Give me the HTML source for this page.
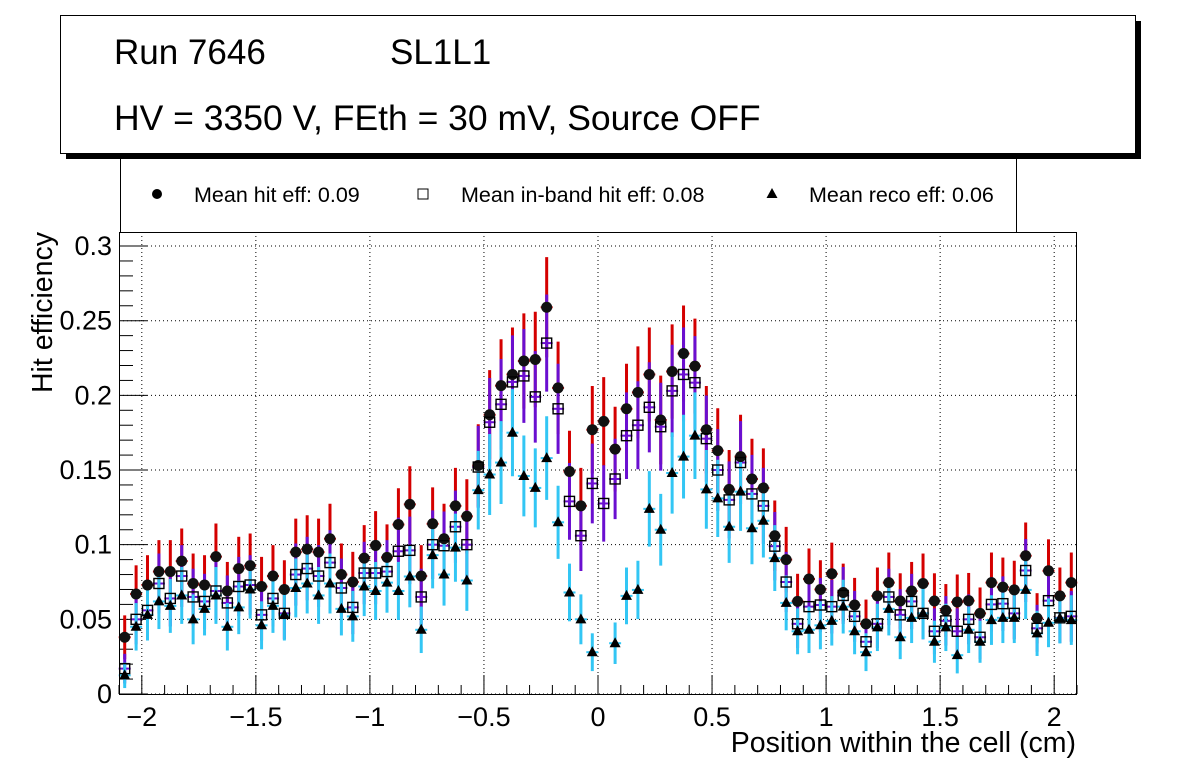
<!DOCTYPE html>
<html><head><meta charset="utf-8">
<style>
html,body{margin:0;padding:0;background:#fff;}
svg{display:block;font-family:"Liberation Sans",sans-serif;}
</style></head>
<body>
<svg id="chart" width="1196" height="772" viewBox="0 0 1196 772" xmlns="http://www.w3.org/2000/svg">
  <rect x="66" y="21" width="1075" height="138" fill="#000"/>
  <rect x="60.5" y="15.5" width="1075" height="138" fill="#fff" stroke="#000" stroke-width="1"/>
  <text x="114" y="64" font-size="35">Run 7646</text>
  <text x="390" y="64" font-size="35">SL1L1</text>
  <text x="114" y="130" font-size="35.5">HV = 3350 V, FEth = 30 mV, Source OFF</text>
  <g>
    <path d="M120.5 154 V232 M1016.5 154 V232" stroke="#000" stroke-width="1"/>
    <circle cx="157" cy="194" r="5" fill="#000"/>
    <text x="194" y="202" font-size="21.5">Mean hit  eff: 0.09</text>
    <rect x="418" y="189" width="10" height="10" fill="#fff" stroke="#000"/>
    <text x="461" y="202" font-size="21.5">Mean in-band hit eff: 0.08</text>
    <path d="M772 188 L777.5 198 L766.5 198 Z" fill="#000"/>
    <text x="809" y="202" font-size="21.5">Mean reco eff: 0.06</text>
  </g>
  <g id="grid"></g>
  <g id="axes"></g>
  <g id="marks"></g>
  <rect x="119.5" y="232.5" width="957" height="462" fill="none" stroke="#000"/>
  <text x="1076" y="752" font-size="28.5" text-anchor="end">Position within the cell (cm)</text>
  <text transform="translate(52,232) rotate(-90)" font-size="28.5" text-anchor="end">Hit efficiency</text>
</svg>
<script>
const hitEff = [0.038,0.067,0.073,0.082,0.082,0.089,0.074,0.073,0.092,0.069,0.084,0.086,0.072,0.079,0.070,0.095,0.097,0.095,0.104,0.080,0.075,0.091,
 0.0995,0.0915,0.1135,0.127,0.079,0.114,0.104,0.126,0.119,0.153,0.187,0.2065,0.214,0.223,0.224,0.259,0.205,0.149,0.126,0.177,
 0.1826,0.164,0.191,0.202,0.214,0.1835,0.216,0.228,0.2196,0.177,0.163,0.137,0.159,0.144,0.138,0.106,0.090,0.062,0.077,0.070,
 0.0805,0.068,0.0596,0.047,0.0657,0.0746,0.0623,0.069,0.074,0.0623,0.056,0.0616,0.0625,0.054,0.0746,0.0716,0.0697,0.0926,0.0507,0.0825,0.0657,0.0746];
const inBandEff = [0.017,0.050,0.056,0.074,0.064,0.079,0.065,0.062,0.069,0.061,0.072,0.073,0.053,0.064,0.054,0.080,0.084,0.079,0.088,0.071,0.058,0.081,
 0.081,0.082,0.0956,0.0962,0.065,0.100,0.0993,0.112,0.100,0.152,0.182,0.194,0.209,0.213,0.199,0.235,0.191,0.129,0.106,0.141,
 0.1276,0.144,0.173,0.180,0.192,0.179,0.203,0.214,0.2085,0.171,0.150,0.130,0.155,0.134,0.126,0.099,0.075,0.047,0.0585,0.0596,
 0.0585,0.066,0.052,0.035,0.047,0.065,0.053,0.062,0.054,0.042,0.049,0.042,0.050,0.038,0.060,0.0605,0.054,0.0827,0.044,0.0625,0.051,0.052];
const recoEff = [0.0125,0.045,0.053,0.062,0.059,0.066,0.050,0.057,0.066,0.045,0.058,0.070,0.046,0.059,0.053,0.071,0.074,0.066,0.074,0.057,0.052,0.072,
 0.069,0.0746,0.069,0.0787,0.043,0.093,0.080,0.098,0.076,0.1365,0.147,0.155,0.175,0.146,0.138,0.158,0.115,0.068,0.050,0.028,
 null,0.034,0.0657,0.0697,0.124,0.110,0.148,0.159,0.173,0.137,0.131,0.112,0.1355,0.111,0.116,0.091,0.061,0.042,0.043,0.046,
 0.049,0.0585,0.042,0.028,0.0446,0.057,0.038,0.051,0.054,0.035,0.0446,0.026,0.043,0.035,0.0495,0.051,0.051,0.0697,0.0406,0.0477,0.0507,0.0495];
const xTicks = [-2,-1.5,-1,-0.5,0,0.5,1,1.5,2];
const xTickLabels = ["\u22122","\u22121.5","\u22121","\u22120.5","0","0.5","1","1.5","2"];
const yTicks = [0,0.05,0.1,0.15,0.2,0.25,0.3];
const yTickLabels = ["0","0.05","0.1","0.15","0.2","0.25","0.3"];
const binStart = -2.075, binWidth = 0.05, nEntries = 170;

const NS = "http://www.w3.org/2000/svg";
const X0 = 119, X1 = 1077, XMIN = -2.1, XMAX = 2.1;
const Y0 = 694, YTOP = 232, YMAX = 0.3094;
const sx = v => X0 + (v - XMIN) / (XMAX - XMIN) * (X1 - X0);
const sy = v => Y0 - v / YMAX * (Y0 - YTOP);
function mk(tag, attrs, parent){ const e = document.createElementNS(NS, tag); for (const k in attrs) e.setAttribute(k, attrs[k]); parent.appendChild(e); return e; }
const grid = document.getElementById('grid'), axes = document.getElementById('axes'), marks = document.getElementById('marks');

xTicks.forEach((t,i)=>{
  const x = sx(t);
  const g = mk('line',{x1:x,x2:x,y1:YTOP,y2:Y0,stroke:'#000','stroke-width':1,'stroke-dasharray':'1,3'},grid);
  
  
  const tk = mk('line',{x1:x,x2:x,y1:Y0,y2:Y0-19,stroke:'#000'},axes);
  
  
  const lb = mk('text',{x:x,y:726,'font-size':27,'text-anchor':'middle'},axes);
  lb.textContent = xTickLabels[i];
  
  
});
for (let k = -21; k <= 21; k++){
  if (k % 5 === 0) continue;
  const x = sx(k/10);
  const m = mk('line',{x1:x,x2:x,y1:Y0,y2:Y0-9,stroke:'#000'},axes);
  
  
}
yTicks.forEach((t,i)=>{
  const y = sy(t);
  const g = mk('line',{x1:X0,x2:X1,y1:y,y2:y,stroke:'#000','stroke-width':1,'stroke-dasharray':'1,3'},grid);
  
  
  const tk = mk('line',{x1:X0,x2:X0+28,y1:y,y2:y,stroke:'#000'},axes);
  
  
  const lb = mk('text',{x:112,y:y+9,'font-size':27,'text-anchor':'end'},axes);
  lb.textContent = yTickLabels[i];
  
  
});
for (let k = 1; k <= 30; k++){
  if (k % 5 === 0) continue;
  const y = sy(k/100);
  const m = mk('line',{x1:X0,x2:X0+14,y1:y,y2:y,stroke:'#000'},axes);
  
  
}

const err = v => Math.sqrt(v*(1-v)/nEntries);
function errBars(arr, color, name){
  arr.forEach((v,i)=>{
    if (v === null) return;
    const x = sx(binStart + binWidth*i), e = err(v);
    const l = mk('line',{x1:x,x2:x,y1:sy(Math.max(0,v-e)),y2:sy(v+e),stroke:color,'stroke-width':3},marks);
    
    
    const h = mk('line',{x1:x-6,x2:x+6,y1:sy(v),y2:sy(v),stroke:color,'stroke-width':2},marks);
    
    
  });
}
errBars(hitEff,'#d40000','hit');
errBars(inBandEff,'#6a0fd0','inband');
errBars(recoEff,'#33c6f4','reco');
hitEff.forEach((v,i)=>{
  const c = mk('circle',{cx:sx(binStart+binWidth*i),cy:sy(v),r:5.5,fill:'#111'},marks);
  
  
});
inBandEff.forEach((v,i)=>{
  const x = sx(binStart+binWidth*i), y = sy(v);
  const r = mk('rect',{x:x-5,y:y-5,width:10,height:10,fill:'none',stroke:'#000','stroke-width':1.4},marks);
  
  
});
recoEff.forEach((v,i)=>{
  if (v === null) return;
  const x = sx(binStart+binWidth*i), y = sy(v);
  const p = mk('path',{d:`M${x} ${y-6} L${x+5.5} ${y+4} L${x-5.5} ${y+4} Z`,fill:'#000'},marks);
  
  
});
</script>
</body></html>
